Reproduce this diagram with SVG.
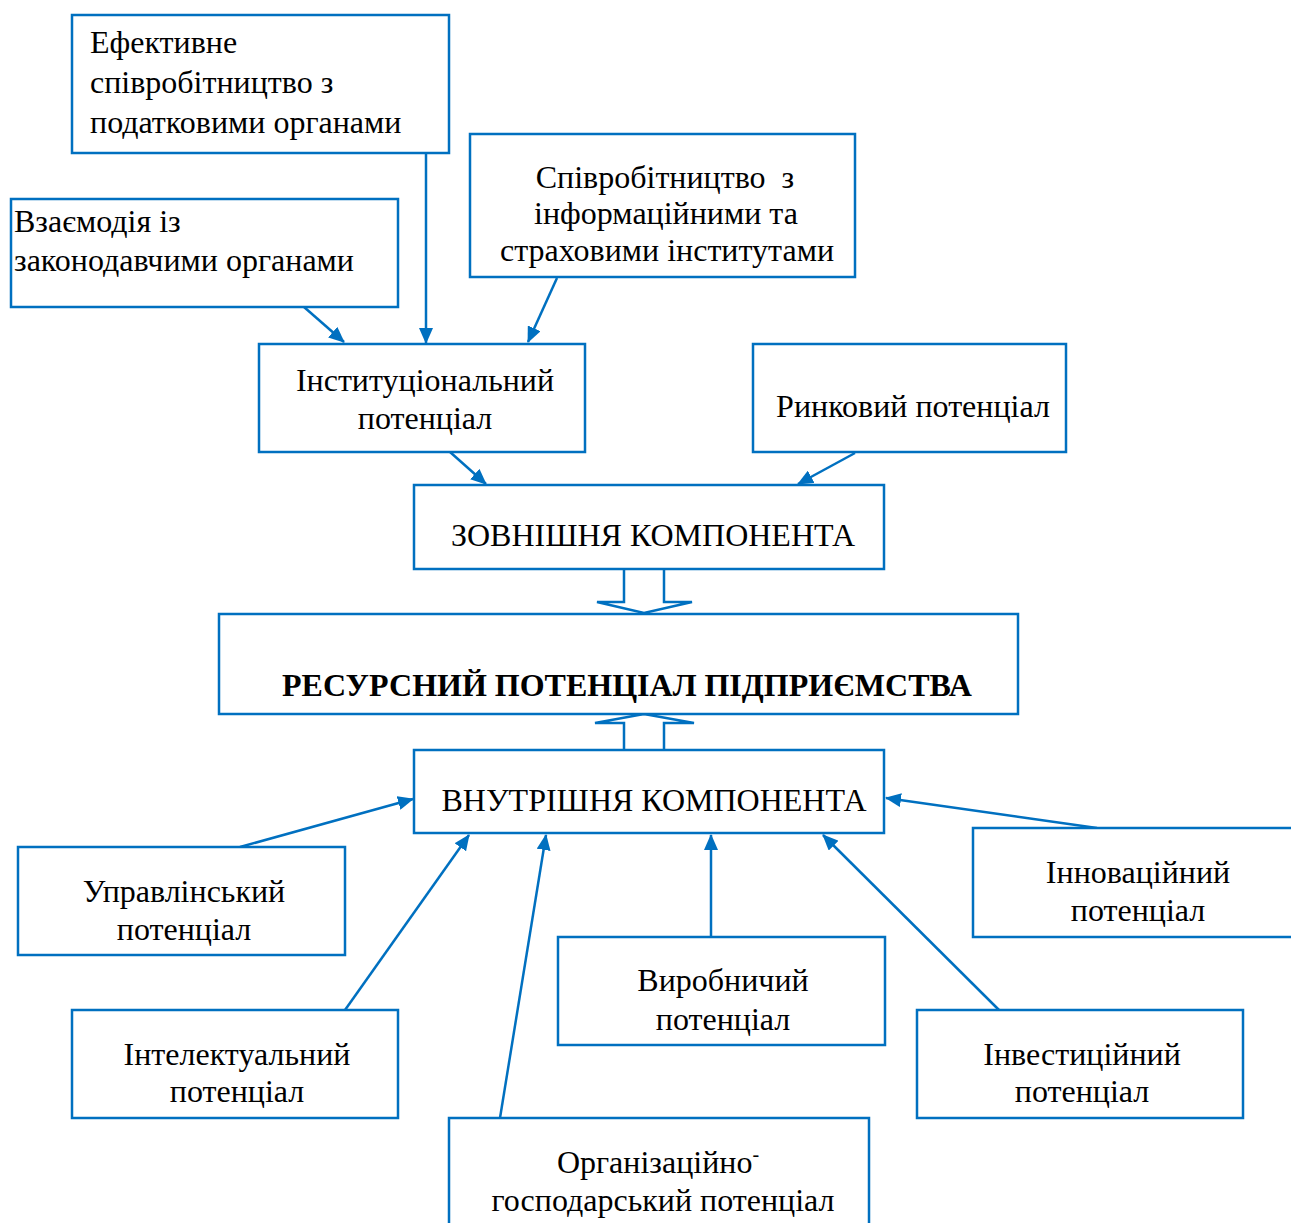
<svg xmlns="http://www.w3.org/2000/svg" width="1291" height="1223" viewBox="0 0 1291 1223">
<style>
rect.box{fill:#fff;stroke:#0070C0;stroke-width:2.5}
text{font-family:"Liberation Serif","Times New Roman",serif;font-size:32px;fill:#000}
.c{text-anchor:middle}
.b{font-weight:bold}
.con line{stroke:#0070C0;stroke-width:2.5;fill:none}
.blk{fill:#fff;stroke:#0070C0;stroke-width:2.5;stroke-linejoin:miter}
</style>
<defs>
<marker id="ah" markerUnits="userSpaceOnUse" markerWidth="16" markerHeight="14" refX="15" refY="7" orient="auto">
<path d="M0,0 L16,7 L0,14 Z" fill="#0070C0"/>
</marker>
</defs>
<rect width="1291" height="1223" fill="#fff"/>
<g class="con">
<line x1="426" y1="153" x2="426" y2="343" marker-end="url(#ah)"/>
<line x1="304" y1="307" x2="344" y2="342" marker-end="url(#ah)"/>
<line x1="557" y1="278" x2="528" y2="342" marker-end="url(#ah)"/>
<line x1="450" y1="452" x2="486" y2="484" marker-end="url(#ah)"/>
<line x1="855" y1="453" x2="798" y2="484" marker-end="url(#ah)"/>
<line x1="240" y1="847" x2="413" y2="799" marker-end="url(#ah)"/>
<line x1="1097" y1="828" x2="886" y2="798" marker-end="url(#ah)"/>
<line x1="345" y1="1010" x2="469" y2="835" marker-end="url(#ah)"/>
<line x1="500" y1="1118" x2="546" y2="835" marker-end="url(#ah)"/>
<line x1="711" y1="937" x2="711" y2="835" marker-end="url(#ah)"/>
<line x1="999" y1="1010" x2="823" y2="835" marker-end="url(#ah)"/>
</g>
<g id="blockarrows">
<path class="blk" d="M624,569 L624,602 L597,602 L644,613 L692,602 L664,602 L664,569"/>
<path class="blk" d="M624,750 L624,723 L595,723 L644,714 L694,723 L664,723 L664,750"/>
</g>
<g id="n-efekt">
<rect class="box" x="72" y="15" width="377" height="138"/>
<text x="90" y="53">Ефективне</text>
<text x="90" y="93">співробітництво з</text>
<text x="90" y="133">податковими органами</text>
</g>
<g id="n-vzaiem">
<rect class="box" x="11" y="199" width="387" height="108"/>
<text x="14" y="232">Взаємодія із</text>
<text x="14" y="271">законодавчими органами</text>
</g>
<g id="n-spivrob">
<rect class="box" x="470" y="134" width="385" height="143"/>
<text class="c" x="665" y="188">Співробітництво&#160; з</text>
<text class="c" x="666" y="224">інформаційними та</text>
<text class="c" x="667" y="261">страховими інститутами</text>
</g>
<g id="n-instyt">
<rect class="box" x="259" y="344" width="326" height="108"/>
<text class="c" x="425" y="391">Інституціональний</text>
<text class="c" x="425" y="429">потенціал</text>
</g>
<g id="n-rynk">
<rect class="box" x="753" y="344" width="313" height="108"/>
<text class="c" x="913" y="417">Ринковий потенціал</text>
</g>
<g id="n-zovn">
<rect class="box" x="414" y="485" width="470" height="84"/>
<text class="c" x="653" y="546">ЗОВНІШНЯ КОМПОНЕНТА</text>
</g>
<g id="n-resurs">
<rect class="box" x="219" y="614" width="799" height="100"/>
<text class="c b" x="627" y="696">РЕСУРСНИЙ ПОТЕНЦІАЛ ПІДПРИЄМСТВА</text>
</g>
<g id="n-vnutr">
<rect class="box" x="414" y="750" width="470" height="83"/>
<text class="c" x="654" y="811">ВНУТРІШНЯ КОМПОНЕНТА</text>
</g>
<g id="n-uprav">
<rect class="box" x="18" y="847" width="327" height="108"/>
<text class="c" x="184" y="902">Управлінський</text>
<text class="c" x="184" y="940">потенціал</text>
</g>
<g id="n-innov">
<rect class="box" x="973" y="828" width="330" height="109"/>
<text class="c" x="1138" y="883">Інноваційний</text>
<text class="c" x="1138" y="921">потенціал</text>
</g>
<g id="n-vyrob">
<rect class="box" x="558" y="937" width="327" height="108"/>
<text class="c" x="723" y="991">Виробничий</text>
<text class="c" x="723" y="1030">потенціал</text>
</g>
<g id="n-intel">
<rect class="box" x="72" y="1010" width="326" height="108"/>
<text class="c" x="237" y="1065">Інтелектуальний</text>
<text class="c" x="237" y="1102">потенціал</text>
</g>
<g id="n-invest">
<rect class="box" x="917" y="1010" width="326" height="108"/>
<text class="c" x="1082" y="1065">Інвестиційний</text>
<text class="c" x="1082" y="1102">потенціал</text>
</g>
<g id="n-orgaz">
<rect class="box" x="449" y="1118" width="420" height="120"/>
<text class="c" x="658" y="1173">Організаційно<tspan font-size="20" dy="-12">-</tspan></text>
<text class="c" x="663" y="1211">господарський потенціал</text>
</g>
</svg>
